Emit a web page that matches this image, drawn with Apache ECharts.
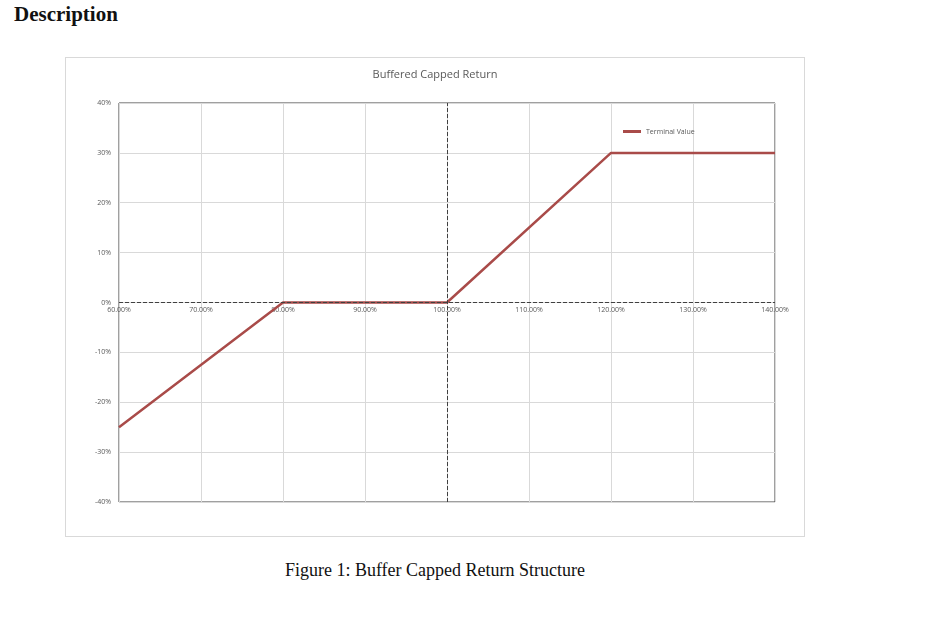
<!DOCTYPE html>
<html>
<head>
<meta charset="utf-8">
<script src="https://cdn.jsdelivr.net/npm/echarts@6/dist/echarts.min.js"></script>
<style>
  body { margin: 0; background: #fff; width: 930px; height: 635px; position: relative; font-family: "Liberation Serif", serif; }
  #head { position: absolute; left: 14px; top: 2px; font-size: 21px; font-weight: bold; color: #111; }
  #chart { position: absolute; left: 65px; top: 57px; width: 740px; height: 480px; border: 1px solid #d9d9d9; box-sizing: border-box; }
  #cap { position: absolute; left: 0; width: 870px; top: 560px; text-align: center; font-size: 18px; color: #111; }
</style>
</head>
<body>
<div id="head">Description</div>
<div id="chart"></div>
<div id="cap">Figure 1: Buffer Capped Return Structure</div>
<script>
// 标的表现 vs 到期收益
var spotLevels = [0.6, 0.8, 1.0, 1.2, 1.4];
var payoff = [-0.25, 0, 0, 0.3, 0.3];
var seriesName = 'Terminal Value';

var points = [];
for (var i = 0; i < spotLevels.length; i++) {
    points.push([spotLevels[i], payoff[i]]);
}

var chart = echarts.init(document.getElementById('chart'));
chart.setOption({
    animation: false,
    title: {
        text: 'Buffered Capped Return',
        left: 'center',
        top: 6,
        textStyle: { fontSize: 11, fontWeight: 'normal', color: '#595959', fontFamily: 'Open Sans' }
    },
    legend: {
        data: [seriesName],
        left: 552,
        top: 65,
        itemWidth: 18,
        itemHeight: 3,
        itemGap: 2,
        icon: 'rect',
        textStyle: { fontSize: 7, color: '#595959', fontFamily: 'Open Sans' }
    },
    grid: { left: 53, right: 29, top: 45, bottom: 34, show: true, borderColor: '#404040', borderWidth: 1 },
    xAxis: {
        type: 'value', min: 0.6, max: 1.4, interval: 0.1,
        offset: -200,
        axisLine: { show: false },
        axisTick: { show: false },
        axisLabel: { fontSize: 7, color: '#595959', margin: 4, fontFamily: 'Open Sans', formatter: function (v) { return (v * 100).toFixed(2) + '%'; } },
        splitLine: { lineStyle: { color: '#d9d9d9' } }
    },
    yAxis: {
        type: 'value', min: -0.4, max: 0.4, interval: 0.1,
        axisLine: { show: false },
        axisTick: { show: false },
        axisLabel: { fontSize: 7, color: '#595959', margin: 8, fontFamily: 'Open Sans', formatter: function (v) { return Math.round(v * 100) + '%'; } },
        splitLine: { lineStyle: { color: '#d9d9d9' } }
    },
    series: [{
        name: seriesName,
        type: 'line',
        data: points,
        symbol: 'none',
        z: 3,
        lineStyle: { color: '#a94b49', width: 2.5 },
        itemStyle: { color: '#a94b49' },
        markLine: {
            silent: true, symbol: 'none', label: { show: false },
            lineStyle: { color: '#404040', type: 'dashed', width: 1 },
            data: [{ xAxis: 1.0 }, { yAxis: 0 }]
        }
    }]
});
</script>
</body>
</html>
